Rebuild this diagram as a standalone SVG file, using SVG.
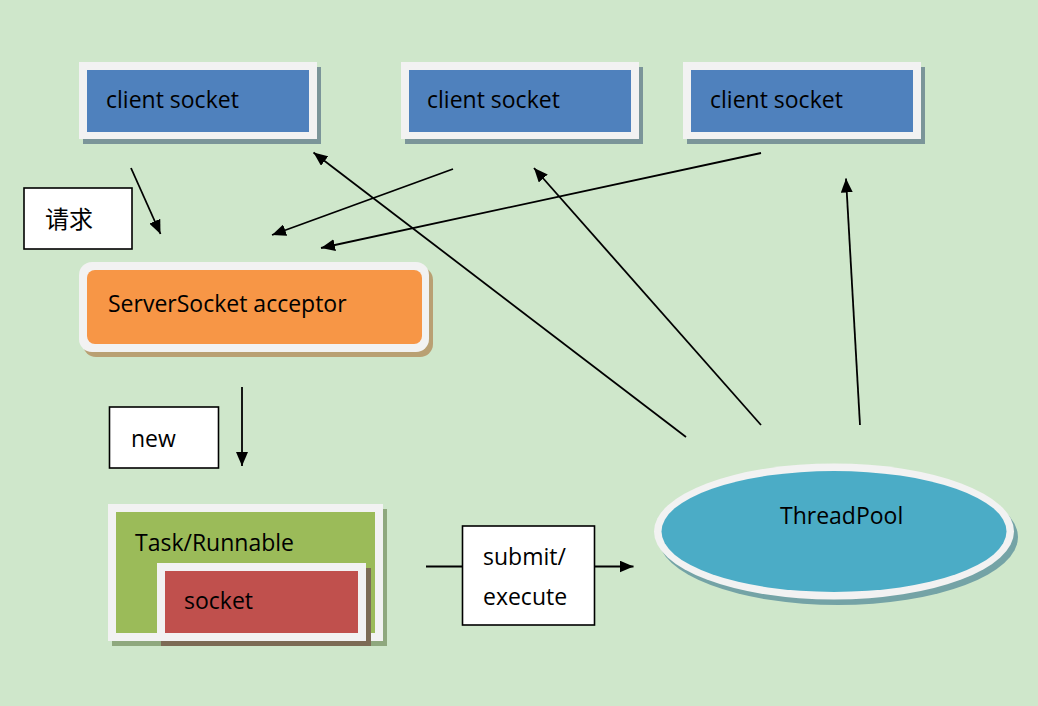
<svg xmlns="http://www.w3.org/2000/svg" width="1038" height="706" viewBox="0 0 1038 706">
<style>
.t{font-family:"Open Sans","Liberation Sans",sans-serif;font-size:23px;fill:#000}
.cjk{font-family:"Noto Sans CJK SC",sans-serif;font-size:24px;fill:#000}
.frame{fill:#f2f2f2}
.lbl{fill:#fff;stroke:#000;stroke-width:1.6}
.c{stroke:#000;stroke-width:1.8;fill:none}
</style>
<defs>
<marker id="ah" viewBox="0 0 14 12" refX="14" refY="6" markerWidth="14" markerHeight="12" markerUnits="userSpaceOnUse" orient="auto">
<path d="M0,0 L14,6 L0,12 z" fill="#000"/>
</marker>
</defs>
<rect x="0" y="0" width="1038" height="706" fill="#cfe7cb"/>

<g id="client1">
<rect x="83" y="67" width="238" height="77" fill="#7b9599"/>
<rect class="frame" x="79" y="62" width="238" height="77"/>
<rect x="87" y="70" width="222" height="62" fill="#4f81bd"/>
<text class="t" x="106" y="108">client socket</text>
</g>
<g id="client2">
<rect x="405" y="67" width="238" height="77" fill="#7b9599"/>
<rect class="frame" x="401" y="62" width="238" height="77"/>
<rect x="409" y="70" width="222" height="62" fill="#4f81bd"/>
<text class="t" x="427" y="108">client socket</text>
</g>
<g id="client3">
<rect x="687" y="67" width="238" height="77" fill="#7b9599"/>
<rect class="frame" x="683" y="62" width="238" height="77"/>
<rect x="691" y="70" width="222" height="62" fill="#4f81bd"/>
<text class="t" x="710" y="108">client socket</text>
</g>

<g id="label-request">
<rect class="lbl" x="24" y="188" width="108" height="61"/>
<text class="cjk" x="45" y="228">请求</text>
</g>

<g id="acceptor">
<rect x="83" y="267" width="350" height="90" rx="13" fill="#b9a073"/>
<rect class="frame" x="79" y="262" width="350" height="90" rx="13"/>
<rect x="87" y="270" width="335" height="74" rx="8" fill="#f79646"/>
<text class="t" x="108" y="312">ServerSocket acceptor</text>
</g>

<g id="label-new">
<rect class="lbl" x="109.5" y="407" width="109" height="61"/>
<text class="t" x="131" y="447">new</text>
</g>

<g id="task">
<rect x="112" y="509" width="275" height="137" fill="#8fa87e"/>
<rect class="frame" x="108" y="504" width="275" height="137"/>
<rect x="116" y="512" width="259" height="121" fill="#9bbb59"/>
<text class="t" x="135" y="551">Task/Runnable</text>
<g id="socket">
<rect x="161" y="568" width="210" height="78" fill="#7c6b55"/>
<rect class="frame" x="157" y="563" width="209" height="78"/>
<rect x="165" y="571" width="193" height="62" fill="#c0504d"/>
<text class="t" x="184" y="609">socket</text>
</g>
</g>

<g id="label-submit">
<rect class="lbl" x="462.5" y="526" width="132" height="99"/>
<text class="t" x="483" y="565">submit/</text>
<text class="t" x="483" y="605">execute</text>
</g>

<g id="threadpool">
<ellipse cx="838" cy="537" rx="180" ry="68" fill="#74a3a6"/>
<ellipse class="frame" cx="834" cy="531.5" rx="180" ry="68"/>
<ellipse cx="834" cy="531.5" rx="172.5" ry="60.5" fill="#4bacc6"/>
<text class="t" x="780" y="524">ThreadPool</text>
</g>

<g id="connectors">
<line class="c" x1="131" y1="168" x2="160.5" y2="234" marker-end="url(#ah)"/>
<line class="c" x1="453" y1="169" x2="272" y2="235" marker-end="url(#ah)"/>
<line class="c" x1="761" y1="153" x2="321" y2="248" marker-end="url(#ah)"/>
<line class="c" x1="242" y1="387" x2="242" y2="466" marker-end="url(#ah)"/>
<line class="c" x1="426" y1="566.5" x2="462.5" y2="566.5"/>
<line class="c" x1="594.5" y1="566.5" x2="633.5" y2="566.5" marker-end="url(#ah)"/>
<line class="c" x1="686" y1="437" x2="313.5" y2="152.5" marker-end="url(#ah)"/>
<line class="c" x1="761" y1="425" x2="534" y2="168" marker-end="url(#ah)"/>
<line class="c" x1="860" y1="425" x2="846" y2="178.5" marker-end="url(#ah)"/>
</g>
</svg>
